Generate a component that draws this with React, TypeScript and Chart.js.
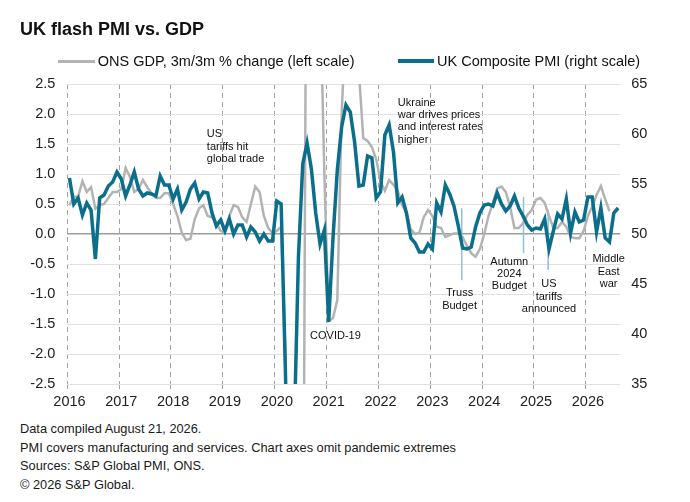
import { useEffect, useRef } from "react";
import { Chart, registerables } from "chart.js";

Chart.register(...registerables);

const FONT = '"Liberation Sans", Arial, sans-serif';
const TEAL = "#0b6e8b";
const GREY = "#b3b3b3";
const MARKER = "#8cc4d4";

// monthly points, Jan 2016 .. Aug 2026
const years = [2016, 2017, 2018, 2019, 2020, 2021, 2022, 2023, 2024, 2025, 2026];
const lastYearMonths = 8;

// UK Composite PMI (right scale)
const pmi = [
    55.6, 53.0, 53.6, 51.9, 53.1, 52.4, 47.5, 53.6, 53.9, 54.8, 55.2, 56.2,
    55.5, 53.8, 54.9, 56.2, 54.5, 53.8, 54.1, 54.0, 53.8, 55.8, 54.9, 54.9,
    53.5, 54.5, 52.4, 53.2, 54.5, 55.1, 53.5, 54.2, 54.1, 52.1, 50.8, 51.4,
    50.3, 51.5, 50.0, 50.9, 50.9, 49.7, 50.7, 50.2, 49.3, 50.0, 49.3, 49.3,
    53.3, 53.0, 36.0, 13.8, 30.0, 47.7, 57.0, 59.1, 56.5, 52.1, 49.0, 50.4,
    41.2, 49.6, 56.4, 60.7, 62.9, 62.2, 59.2, 54.8, 54.9, 57.8, 57.6, 53.6,
    54.2, 59.9, 60.9, 58.2, 53.1, 53.7, 52.1, 49.6, 49.1, 48.2, 48.2, 49.0,
    48.5, 53.1, 52.2, 54.9, 54.0, 52.8, 50.8, 48.6, 48.5, 48.7, 50.7, 52.1,
    52.9, 53.0, 52.8, 54.1, 53.0, 52.3, 52.8, 53.8, 52.6, 51.8, 50.9, 50.4,
    50.6, 50.5, 51.5, 48.5, 50.3, 52.0, 51.5, 53.5, 50.1, 52.2, 51.2, 51.4,
    53.7, 53.7, 50.2, 52.6, 49.6, 49.2, 52.1, 52.6,
];

// ONS GDP, 3m/3m % change (left scale)
const gdp = [
    0.48, 0.62, 0.62, 0.88, 0.7, 0.78, 0.42, 0.48, 0.5, 0.6, 0.7, 0.7,
    0.75, 1.1, 0.95, 0.7, 0.75, 0.9, 0.78, 0.68, 0.6, 0.6, 0.68, 0.68,
    0.5, 0.3, 0.02, -0.1, -0.08, 0.25, 0.43, 0.48, 0.3, 0.28, 0.18, 0.05,
    0.04, 0.3, 0.48, 0.45, 0.28, 0.2, 0.5, 0.79, 0.7, 0.3, 0.1, 0.02,
    0.05, 0.12, -2.0, -10.4, -19.1, -20.4, -7.6, 8.2, 16.0, 13.6, 4.1, 1.0,
    -1.45, -1.4, -1.1, 2.0, 3.6, 4.8, 3.6, 2.7, 1.6, 1.55, 1.45, 1.25,
    0.88, 0.72, 0.9, 0.82, 0.72, 0.48, 0.35, 0.08, 0.0, 0.02, 0.28, 0.4,
    0.3, 0.12, 0.1, -0.05, -0.02, 0.01, 0.01, -0.05, -0.2, -0.32, -0.38, -0.25,
    0.0, 0.3, 0.52, 0.76, 0.79, 0.7, 0.45, 0.1, 0.1, 0.18, 0.32, 0.4,
    0.57, 0.6, 0.52, 0.3, 0.1, 0.1, 0.2, 0.12, -0.05, -0.07, -0.07, 0.05,
    0.3, 0.46, 0.65, 0.8, 0.58, 0.38, null, null,
];

const months: string[] = [];
years.forEach((yr, i) => {
    const n = i === years.length - 1 ? lastYearMonths : 12;
    for (let m = 1; m <= n; m++) months.push(`${yr}-${String(m).padStart(2, "0")}`);
});

// text notes, anchored at month index / left-scale value
const notes = [
    { lines: ["US", "tariffs hit", "global trade"], at: 31.8, value: 1.66, align: "left" },
    { lines: ["Ukraine", "war drives prices", "and interest rates", "higher"], at: 76.0, value: 2.19, align: "left" },
    { lines: ["COVID-19"], at: 55.7, value: -1.7, align: "left" },
    { lines: ["Truss", "Budget"], at: 90.3, value: -0.99, align: "center" },
    { lines: ["Autumn", "2024", "Budget"], at: 101.8, value: -0.46, align: "center" },
    { lines: ["US", "tariffs", "announced"], at: 111.0, value: -0.84, align: "center" },
    { lines: ["Middle", "East", "war"], at: 124.8, value: -0.42, align: "center" },
];

// light blue event markers
const markers = [
    { at: 90.8, from: 0.43, to: -0.77 },
    { at: 105.1, from: 0.62, to: -0.32 },
    { at: 110.8, from: 0.4, to: -0.6 },
];

const notesPlugin = {
    id: "notes",
    beforeDatasetsDraw(chart: any) {
        const { ctx, scales } = chart;
        ctx.save();
        ctx.strokeStyle = MARKER;
        ctx.lineWidth = 1.5;
        markers.forEach(m => {
            const px = scales.x.getPixelForValue(m.at);
            ctx.beginPath();
            ctx.moveTo(px, scales.y.getPixelForValue(m.from));
            ctx.lineTo(px, scales.y.getPixelForValue(m.to));
            ctx.stroke();
        });
        ctx.restore();
    },
    afterDatasetsDraw(chart: any) {
        const { ctx, scales } = chart;
        ctx.save();
        ctx.font = `11px ${FONT}`;
        ctx.fillStyle = "#111";
        ctx.textBaseline = "middle";
        notes.forEach(n => {
            ctx.textAlign = n.align;
            const px = scales.x.getPixelForValue(n.at);
            const py = scales.y.getPixelForValue(n.value);
            n.lines.forEach((line, i) => ctx.fillText(line, px, py + i * 12.3));
        });
        ctx.restore();
    },
};

export default function App() {
    const canvasRef = useRef<HTMLCanvasElement>(null);
    const chartRef = useRef<Chart | null>(null);

    useEffect(() => {
        if (!canvasRef.current) return;
        if (chartRef.current) chartRef.current.destroy();

        const tickFont = { family: FONT, size: 14.5 };
        const yearGrid = (c: any) => (c.index % 12 === 0 ? "#a3a3a3" : "rgba(0,0,0,0)");

        chartRef.current = new Chart(canvasRef.current, {
            type: "line",
            data: {
                labels: months,
                datasets: [
                    {
                        label: "ONS GDP, 3m/3m % change (left scale)",
                        data: gdp,
                        yAxisID: "y",
                        borderColor: GREY,
                        borderWidth: 2.5,
                        pointRadius: 0,
                        order: 1,
                        clip: 0,
                    },
                    {
                        label: "UK Composite PMI (right scale)",
                        data: pmi,
                        yAxisID: "y2",
                        borderColor: TEAL,
                        borderWidth: 3.5,
                        pointRadius: 0,
                        order: 0,
                        clip: 0,
                    },
                ],
            },
            options: {
                animation: false,
                responsive: false,
                layout: { padding: { left: 0, right: 0, top: 84, bottom: 0 } },
                plugins: {
                    legend: { display: false },
                    tooltip: { enabled: false },
                },
                scales: {
                    x: {
                        type: "category",
                        offset: true,
                        grid: {
                            offset: true,
                            color: yearGrid,
                            tickColor: yearGrid,
                            lineWidth: 1,
                            tickLength: 5,
                        },
                        border: { display: false, dash: [5, 4] },
                        ticks: {
                            autoSkip: false,
                            maxRotation: 0,
                            minRotation: 0,
                            padding: 4,
                            color: "#222",
                            font: tickFont,
                            callback: (_v: any, i: number) => (i % 12 === 0 ? String(years[i / 12]) : ""),
                        },
                        afterFit: (s: any) => { s.height = 36; },
                    },
                    y: {
                        position: "left",
                        min: -2.5,
                        max: 2.5,
                        ticks: {
                            stepSize: 0.5,
                            padding: 12,
                            color: "#222",
                            font: tickFont,
                            callback: (v: any) => Number(v).toFixed(1),
                        },
                        grid: {
                            drawTicks: false,
                            color: (c: any) => (Math.abs(c.tick.value) < 1e-9 ? "#9c9c9c" : "#e1e1e1"),
                            lineWidth: (c: any) => (Math.abs(c.tick.value) < 1e-9 ? 1.5 : 1),
                        },
                        border: { display: false },
                        afterFit: (s: any) => { s.width = 67.3; },
                    },
                    y2: {
                        position: "right",
                        min: 35,
                        max: 65,
                        ticks: { stepSize: 5, padding: 11, color: "#222", font: tickFont },
                        grid: { display: false, drawTicks: false },
                        border: { display: false },
                        afterFit: (s: any) => { s.width = 69.7; },
                    },
                },
            },
            plugins: [notesPlugin],
        } as any);

        return () => {
            if (chartRef.current) {
                chartRef.current.destroy();
                chartRef.current = null;
            }
        };
    }, []);

    return (
        <div style={{ position: "absolute", left: 0, top: 0, width: 690, height: 502, background: "#fff", fontFamily: FONT, color: "#111" }}>
            <canvas ref={canvasRef} width={690} height={420} style={{ position: "absolute", left: 0, top: 0 }} />
            <div style={{ position: "absolute", left: 20, top: 18.8, fontSize: 18, lineHeight: "20px", fontWeight: "bold", whiteSpace: "nowrap" }}>
                UK flash PMI vs. GDP
            </div>
            <div style={{ position: "absolute", left: 58.3, top: 59.5, width: 36.7, height: 3, background: GREY }} />
            <div style={{ position: "absolute", left: 97.7, top: 52.7, fontSize: 14.5, lineHeight: "17px", whiteSpace: "nowrap" }}>
                ONS GDP, 3m/3m % change (left scale)
            </div>
            <div style={{ position: "absolute", left: 398, top: 59.2, width: 36, height: 3.6, background: TEAL }} />
            <div style={{ position: "absolute", left: 437, top: 52.7, fontSize: 14.5, lineHeight: "17px", whiteSpace: "nowrap" }}>
                UK Composite PMI (right scale)
            </div>
            <div style={{ position: "absolute", left: 20, top: 420, fontSize: 12.8, lineHeight: "18.5px", whiteSpace: "nowrap", color: "#1a1a1a" }}>
                <div>Data compiled August 21, 2026.</div>
                <div>PMI covers manufacturing and services. Chart axes omit pandemic extremes</div>
                <div>Sources: S&amp;P Global PMI, ONS.</div>
                <div>© 2026 S&amp;P Global.</div>
            </div>
        </div>
    );
}
